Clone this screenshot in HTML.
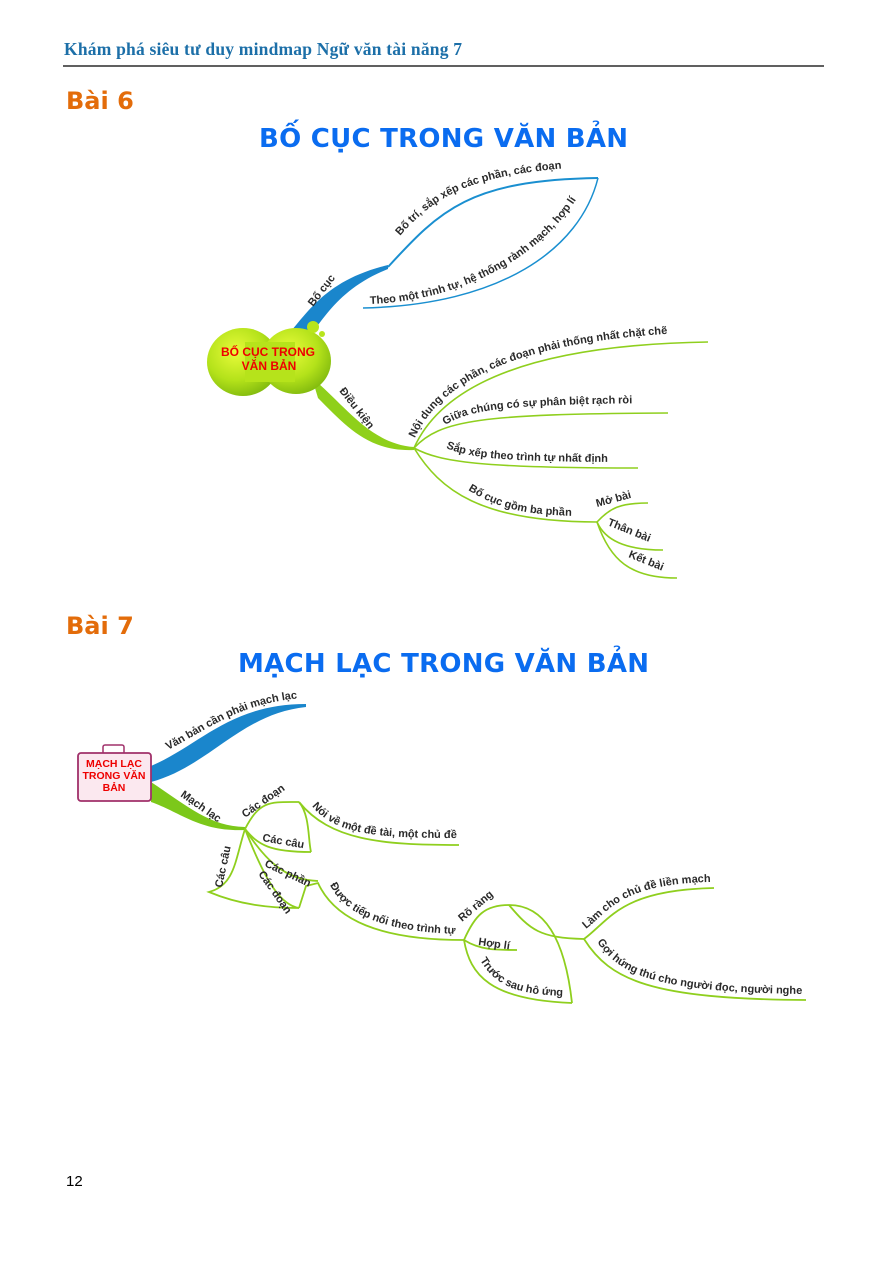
<!DOCTYPE html>
<html><head><meta charset="utf-8"><style>
body{margin:0;background:#fff;}
svg{display:block}
.t{font-family:"Liberation Sans",sans-serif;font-weight:bold;font-size:11px;fill:#2a2a2a}
</style></head><body>
<svg width="888" height="1267" viewBox="0 0 888 1267" xmlns="http://www.w3.org/2000/svg">
<defs>
<radialGradient id="gb" cx="40%" cy="35%" r="70%"><stop offset="0" stop-color="#e8fb3a"/><stop offset="0.6" stop-color="#b4e21a"/><stop offset="1" stop-color="#7fb80e"/></radialGradient>
</defs>
<text x="64" y="55" font-family="Liberation Serif,serif" font-weight="bold" font-size="17.5" fill="#1c6fa8" textLength="398">Khám phá siêu tư duy mindmap Ngữ văn tài năng 7</text>
<line x1="63" y1="66" x2="824" y2="66" stroke="#000" stroke-width="1.3"/>
<text x="66" y="109" font-family="DejaVu Sans,sans-serif" font-weight="bold" font-size="24" fill="#e36c0a">Bài 6</text>
<text x="259" y="147" font-family="DejaVu Sans,sans-serif" font-weight="bold" font-size="26" fill="#0a6cf0" textLength="369">BỐ CỤC TRONG VĂN BẢN</text>
<text x="66" y="634" font-family="DejaVu Sans,sans-serif" font-weight="bold" font-size="24" fill="#e36c0a">Bài 7</text>
<text x="238" y="672" font-family="DejaVu Sans,sans-serif" font-weight="bold" font-size="26" fill="#0a6cf0" textLength="411">MẠCH LẠC TRONG VĂN BẢN</text>
<text x="66" y="1186" font-family="Liberation Sans,sans-serif" font-size="15" fill="#000">12</text>

<!-- Mindmap 1 -->
<path d="M278,345 C305,320 318,282 388,265 L388,269 C330,292 318,332 298,350 Z" fill="#1a86cc"/>
<path d="M388,267 C440,210 470,180 598,178" fill="none" stroke="#1a8fd0" stroke-width="2"/>
<path d="M598,178 C580,250 500,305 363,308" fill="none" stroke="#1a8fd0" stroke-width="1.5"/>
<path d="M312,378 C345,405 370,444 414,447 L414,450 C368,452 345,425 318,398 Z" fill="#8fd01a"/>
<ellipse cx="243" cy="362" rx="36" ry="34" fill="url(#gb)"/>
<ellipse cx="296" cy="361" rx="35" ry="33" fill="url(#gb)"/>
<rect x="245" y="342" width="50" height="40" fill="#b6e31b"/>
<circle cx="313" cy="327" r="6" fill="#b8e51c"/><circle cx="322" cy="334" r="3" fill="#b8e51c"/>
<text x="268" y="356" text-anchor="middle" font-family="Liberation Sans,sans-serif" font-weight="bold" font-size="12" fill="#e00">BỐ CỤC TRONG</text>
<text x="269" y="370" text-anchor="middle" font-family="Liberation Sans,sans-serif" font-weight="bold" font-size="12" fill="#e00">VĂN BẢN</text>
<text class="t" transform="translate(313,307) rotate(-52)">Bố cục</text>
<text class="t" transform="translate(339,391) rotate(52)">Điều kiện</text>
<path id="p1" d="M400,236 C440,190 480,172 600,166" fill="none"/>
<text class="t"><textPath href="#p1">Bố trí, sắp xếp các phần, các đoạn</textPath></text>
<path id="p2" d="M370,304 C470,300 555,250 588,178" fill="none"/>
<text class="t"><textPath href="#p2">Theo một trình tự, hệ thống rành mạch, hợp lí</textPath></text>

<g fill="none" stroke="#8fcf1e" stroke-width="1.6">
<path d="M414,448 C440,390 520,345 708,342"/>
<path d="M414,448 C440,420 480,414 668,413"/>
<path d="M414,448 C440,462 480,468 638,468"/>
<path d="M414,448 C440,490 480,522 597,522"/>
<path d="M597,522 C610,508 620,503 648,503"/>
<path d="M597,522 C605,540 625,550 663,550"/>
<path d="M597,522 C610,560 630,578 677,578"/>
</g>
<path id="q1" d="M414,440 C440,380 520,338 705,332" fill="none"/>
<text class="t"><textPath href="#q1" startOffset="2">Nội dung các phần, các đoạn phải thống nhất chặt chẽ</textPath></text>
<path id="q2" d="M445,425 C470,410 500,404 668,403" fill="none"/>
<text class="t"><textPath href="#q2">Giữa chúng có sự phân biệt rạch ròi</textPath></text>
<path id="q3" d="M446,448 C470,458 500,462 640,462" fill="none"/>
<text class="t"><textPath href="#q3">Sắp xếp theo trình tự nhất định</textPath></text>
<path id="q4" d="M468,490 C500,510 530,516 590,516" fill="none"/>
<text class="t"><textPath href="#q4">Bố cục gồm ba phần</textPath></text>
<text class="t" transform="translate(597,507) rotate(-15)">Mở bài</text>
<text class="t" transform="translate(607,525) rotate(22)">Thân bài</text>
<text class="t" transform="translate(628,557) rotate(22)">Kết bài</text>

<!-- Mindmap 2 -->
<path d="M151,766 C200,745 230,704 306,704 L306,707 C240,714 210,766 151,782 Z" fill="#1a86cc"/>
<path d="M151,782 C190,808 210,826 245,827 L245,830 C200,832 180,812 151,802 Z" fill="#7cc81a"/>
<rect x="103" y="745" width="21" height="9" rx="2" fill="none" stroke="#a0306a" stroke-width="1.5"/>
<rect x="78" y="753" width="73" height="48" rx="3" fill="#fbe8ef" stroke="#a0306a" stroke-width="1.8"/>
<text x="114" y="767" text-anchor="middle" font-family="Liberation Sans,sans-serif" font-weight="bold" font-size="10.5" fill="#e00">MẠCH LẠC</text>
<text x="114" y="779" text-anchor="middle" font-family="Liberation Sans,sans-serif" font-weight="bold" font-size="10.5" fill="#e00">TRONG VĂN</text>
<text x="114" y="791" text-anchor="middle" font-family="Liberation Sans,sans-serif" font-weight="bold" font-size="10.5" fill="#e00">BẢN</text>
<path id="r1" d="M168,750 C210,728 240,703 302,698" fill="none"/>
<text class="t"><textPath href="#r1">Văn bản cần phải mạch lạc</textPath></text>
<text class="t" transform="translate(180,796) rotate(35)">Mạch lạc</text>

<g fill="none" stroke="#8fcf1e" stroke-width="1.8">
<path d="M245,829 C260,800 270,802 299,802"/>
<path d="M299,802 C310,815 308,840 311,852"/>
<path d="M245,829 C258,845 270,852 311,852"/>
<path d="M299,802 C330,840 380,845 459,845"/>
<path d="M245,829 C265,860 285,880 318,881"/>
<path d="M245,829 C265,880 280,905 299,908"/>
<path d="M299,908 L306,886 L318,883 C335,920 380,940 464,940"/>
<path d="M245,829 C235,860 235,885 209,892 C240,905 270,908 299,908"/>
<path d="M464,940 C475,915 485,905 509,905"/>
<path d="M509,905 C530,930 540,938 584,939"/>
<path d="M509,905 C545,905 565,940 572,1003"/>
<path d="M464,940 C470,975 490,1000 572,1003"/>
<path d="M464,940 C480,950 495,950 517,950"/>
<path d="M584,939 C610,920 620,890 714,888"/>
<path d="M584,939 C610,980 650,999 806,1000"/>
</g>
<text class="t" transform="translate(245,818) rotate(-35)">Các đoạn</text>
<text class="t" transform="translate(262,841) rotate(10)">Các câu</text>
<text class="t" transform="translate(264,866) rotate(25)">Các phần</text>
<text class="t" transform="translate(258,874) rotate(55)">Các đoạn</text>
<text class="t" transform="translate(222,888) rotate(-78)">Các câu</text>
<text class="t" transform="translate(462,922) rotate(-40)">Rõ ràng</text>
<text class="t" transform="translate(478,945) rotate(8)">Hợp lí</text>
<path id="s5" d="M480,960 C495,985 515,995 568,996" fill="none"/>
<text class="t"><textPath href="#s5">Trước sau hô ứng</textPath></text>
<path id="s1" d="M312,806 C335,835 380,838 456,838" fill="none"/>
<text class="t"><textPath href="#s1">Nói về một đề tài, một chủ đề</textPath></text>
<path id="s2" d="M330,885 C345,915 385,932 460,934" fill="none"/>
<text class="t"><textPath href="#s2">Được tiếp nối theo trình tự</textPath></text>
<path id="s3" d="M586,929 C610,910 622,884 710,882" fill="none"/>
<text class="t"><textPath href="#s3">Làm cho chủ đề liền mạch</textPath></text>
<path id="s4" d="M597,942 C620,975 655,992 804,994" fill="none"/>
<text class="t"><textPath href="#s4">Gợi hứng thú cho người đọc, người nghe</textPath></text>
</svg>
</body></html>
